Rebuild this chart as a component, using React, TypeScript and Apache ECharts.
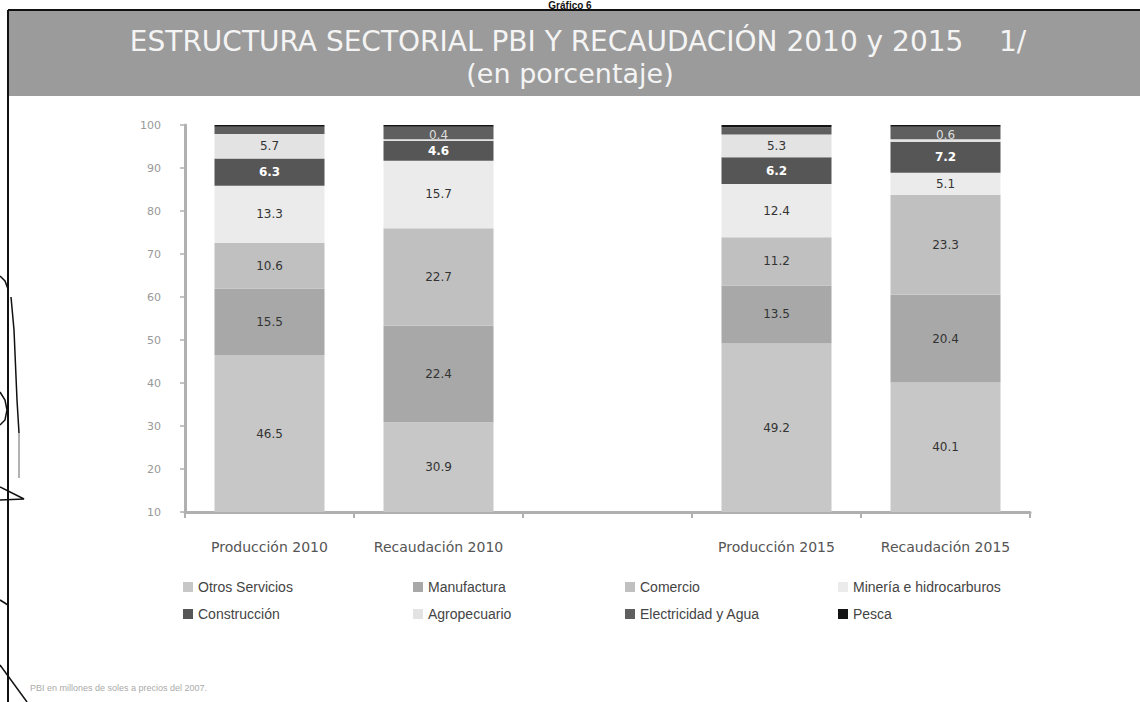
import React, { useEffect, useRef } from "react";
import * as echarts from "echarts";

const categories = ["Producción 2010", "Recaudación 2010", "", "Producción 2015", "Recaudación 2015"];
const seriesNames = [
  "Otros Servicios",
  "Manufactura",
  "Comercio",
  "Minería e hidrocarburos",
  "Construcción",
  "Agropecuario",
  "Electricidad y Agua",
  "Pesca",
];
const otrosServicios = [46.5, 30.9, null, 49.2, 40.1];
const manufactura = [15.5, 22.4, null, 13.5, 20.4];
const comercio = [10.6, 22.7, null, 11.2, 23.3];
const mineria = [13.3, 15.7, null, 12.4, 5.1];
const construccion = [6.3, 4.6, null, 6.2, 7.2];
const agropecuario = [5.7, 0.4, null, 5.3, 0.6];
const electricidad = [1.7, 2.9, null, 1.7, 2.9];
const pesca = [0.4, 0.4, null, 0.5, 0.4];
const yTicks = [10, 20, 30, 40, 50, 60, 70, 80, 90, 100];

const colors = ["#c7c7c7", "#a8a8a8", "#c0c0c0", "#ebebeb", "#565656", "#e3e3e3", "#5f5f5f", "#141414"];
const allData = [otrosServicios, manufactura, comercio, mineria, construccion, agropecuario, electricidad, pesca];

const FONT = "Liberation Sans, Arial, sans-serif";
const WIDE = "DejaVu Sans, Verdana, sans-serif";

export default function App() {
  const ref = useRef<HTMLDivElement>(null);
  useEffect(() => {
    if (!ref.current) return;
    const chart = echarts.init(ref.current, null, { renderer: "svg" });

    const series = seriesNames.map((name, si) => {
      const values = allData[si];
      const showLabel = si <= 5;
      return {
        name,
        type: "bar",
        stack: "total",
        barWidth: 110,
        itemStyle: { color: colors[si] },
        data: values.map((v) => {
          if (v === null) return "-";
          const item: any = { value: v };
          if (si === 5 && v < 1) {
            item.label = { show: true, offset: [0, -5], color: "#dddddd" };
          }
          return item;
        }),
        label: {
          show: showLabel,
          position: "inside",
          fontFamily: WIDE,
          fontSize: 12,
          color: si === 4 ? "#ffffff" : "#333333",
          fontWeight: si === 4 ? "bold" : "normal",
          formatter: (p: any) => Number(p.value).toFixed(1),
        },
      };
    });

    const legendLefts = [183, 413, 625, 838];
    const legendTops = [580, 607];
    const legends = seriesNames.map((name, i) => ({
      show: true,
      left: legendLefts[i % 4],
      top: legendTops[Math.floor(i / 4)],
      padding: 0,
      icon: "rect",
      itemWidth: 10,
      itemHeight: 10,
      itemGap: 0,
      data: [name],
      textStyle: { fontFamily: FONT, fontSize: 14, color: "#444" },
    }));

    const pen = { stroke: "#111", lineWidth: 1.5, fill: null as any };

    chart.setOption({
      animation: false,
      backgroundColor: "#ffffff",
      grid: { left: 185, right: 110, top: 125, bottom: 190 },
      legend: legends,
      xAxis: {
        type: "category",
        data: categories,
        axisLine: { lineStyle: { color: "#b0b0b0", width: 3 } },
        axisTick: { show: true, alignWithLabel: false, length: 6, lineStyle: { color: "#b0b0b0", width: 2 } },
        axisLabel: { margin: 28, fontFamily: WIDE, fontSize: 14, color: "#555" },
      },
      yAxis: {
        type: "value",
        min: yTicks[0],
        max: yTicks[yTicks.length - 1],
        interval: 10,
        splitLine: { show: false },
        axisLine: { show: true, lineStyle: { color: "#b0b0b0", width: 3 } },
        axisTick: { show: true, length: 5, lineStyle: { color: "#b0b0b0", width: 1.5 } },
        axisLabel: { margin: 24, fontFamily: WIDE, fontSize: 11, color: "#999" },
      },
      series,
      graphic: [
        { type: "rect", shape: { x: 8, y: 10, width: 1132, height: 86 }, style: { fill: "#9b9b9b" }, z: -1 },
        { type: "line", shape: { x1: 8, y1: 10, x2: 1140, y2: 10 }, style: { stroke: "#111", lineWidth: 2 } },
        { type: "line", shape: { x1: 8, y1: 10, x2: 8, y2: 702 }, style: { stroke: "#111", lineWidth: 2 } },
        {
          type: "text",
          x: 570,
          y: 0,
          style: { text: "Gráfico 6", fontFamily: FONT, fontSize: 10, fontWeight: "bold", fill: "#111", align: "center", verticalAlign: "top" },
        },
        {
          type: "text",
          x: 578,
          y: 41,
          style: {
            text: "ESTRUCTURA SECTORIAL PBI Y RECAUDACIÓN 2010 y 2015    1/",
            fontFamily: WIDE,
            fontSize: 28,
            fill: "#f4f4f4",
            align: "center",
            verticalAlign: "middle",
          },
        },
        {
          type: "text",
          x: 570,
          y: 73,
          style: {
            text: "(en porcentaje)",
            fontFamily: WIDE,
            fontSize: 27,
            fill: "#f4f4f4",
            align: "center",
            verticalAlign: "middle",
          },
        },
        {
          type: "text",
          x: 30,
          y: 688,
          style: { text: "PBI en millones de soles a precios del 2007.", fontFamily: FONT, fontSize: 9, fill: "#aaaaaa", verticalAlign: "middle" },
        },
        { type: "polyline", shape: { points: [[0, 276], [5, 281], [8, 289]] }, style: pen },
        { type: "polyline", shape: { points: [[11, 297], [14, 330], [17, 400], [19, 433]] }, style: pen },
        { type: "polyline", shape: { points: [[19, 433], [19, 478]] }, style: { stroke: "#999", lineWidth: 1.5 } },
        { type: "polyline", shape: { points: [[0, 392], [5, 400], [7, 410], [5, 420], [0, 425]] }, style: pen },
        { type: "polyline", shape: { points: [[0, 487], [24, 499], [0, 500]] }, style: pen },
        { type: "polyline", shape: { points: [[0, 600], [8, 605]] }, style: pen },
        { type: "polyline", shape: { points: [[0, 665], [27, 702]] }, style: pen },
      ],
    });
    return () => chart.dispose();
  }, []);
  return <div ref={ref} style={{ position: "absolute", left: 0, top: 0, width: 1140, height: 702 }} />;
}
